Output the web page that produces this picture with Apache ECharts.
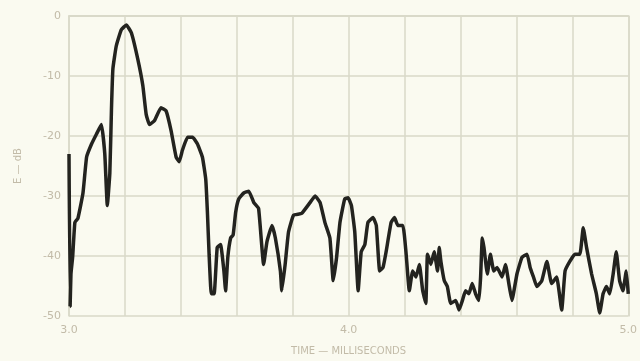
<!DOCTYPE html>
<html>
<head>
<meta charset="utf-8">
<script src="https://cdn.jsdelivr.net/npm/echarts@6/dist/echarts.min.js"></script>
<style>
  html, body { margin: 0; padding: 0; background: #fafaf0; }
  #chart { width: 640px; height: 361px; }
</style>
</head>
<body>
<div id="chart"></div>
<script>
// time in milliseconds, level in dB
const timeMs = [
  3.000, 3.004, 3.007, 3.013, 3.021, 3.032, 3.050, 3.063, 3.081, 3.098,
  3.116, 3.128, 3.137, 3.146, 3.152, 3.157, 3.169, 3.187, 3.205, 3.223,
  3.246, 3.264, 3.276, 3.288, 3.306, 3.329, 3.347, 3.365, 3.383, 3.394,
  3.406, 3.424, 3.442, 3.459, 3.477, 3.489, 3.495, 3.501, 3.509, 3.519,
  3.530, 3.542, 3.554, 3.560, 3.568, 3.578, 3.587, 3.596, 3.607, 3.625,
  3.643, 3.661, 3.678, 3.696, 3.708, 3.726, 3.738, 3.756, 3.761, 3.773,
  3.785, 3.803, 3.832, 3.862, 3.880, 3.898, 3.915, 3.933, 3.945, 3.957,
  3.969, 3.986, 3.998, 4.010, 4.022, 4.034, 4.045, 4.058, 4.069, 4.087,
  4.099, 4.111, 4.123, 4.134, 4.152, 4.164, 4.176, 4.194, 4.205, 4.217,
  4.229, 4.241, 4.253, 4.265, 4.276, 4.282, 4.294, 4.306, 4.318, 4.324,
  4.330, 4.342, 4.353, 4.365, 4.383, 4.395, 4.407, 4.418, 4.430, 4.442,
  4.454, 4.466, 4.472, 4.478, 4.484, 4.496, 4.507, 4.519, 4.531, 4.549,
  4.561, 4.573, 4.584, 4.602, 4.620, 4.638, 4.649, 4.661, 4.673, 4.691,
  4.709, 4.726, 4.744, 4.762, 4.774, 4.791, 4.809, 4.827, 4.839, 4.851,
  4.869, 4.886, 4.898, 4.910, 4.922, 4.934, 4.946, 4.957, 4.969, 4.981,
  4.993, 5.000
];
const levelDb = [
  -23.0, -48.4, -43.0, -40.2, -34.4, -33.7, -29.5, -23.5, -21.3, -19.7,
  -18.1, -23.0, -31.6, -26.2, -15.3, -8.8, -5.0, -2.3, -1.5, -2.8,
  -7.2, -11.6, -16.4, -18.1, -17.4, -15.3, -15.8, -19.1, -23.5, -24.3,
  -22.3, -20.2, -20.2, -21.3, -23.5, -27.2, -32.7, -39.7, -46.3, -46.3,
  -38.6, -38.1, -42.5, -45.8, -40.2, -37.0, -36.5, -32.7, -30.5, -29.5,
  -29.2, -31.1, -32.1, -41.4, -37.6, -34.9, -37.0, -42.5, -45.8, -41.4,
  -36.0, -33.2, -32.9, -31.1, -30.0, -31.1, -34.4, -37.0, -44.1, -40.2,
  -34.4, -30.5, -30.3, -31.6, -36.0, -45.8, -39.3, -38.1, -34.4, -33.6,
  -34.9, -42.5, -41.9, -39.3, -34.4, -33.6, -34.9, -34.9, -39.3, -45.8,
  -42.5, -43.5, -41.4, -45.8, -47.9, -39.7, -41.4, -39.3, -42.5, -38.6,
  -40.9, -44.1, -45.1, -47.9, -47.4, -49.0, -47.4, -45.8, -46.3, -44.6,
  -46.3, -47.4, -43.5, -37.0, -38.6, -43.0, -39.7, -42.5, -41.9, -43.5,
  -41.4, -44.6, -47.4, -43.0, -40.2, -39.7, -41.9, -43.5, -45.1, -44.1,
  -40.9, -44.6, -43.5, -49.0, -42.5, -40.9, -39.7, -39.7, -35.3, -38.6,
  -43.0, -46.3, -49.5, -46.3, -45.1, -46.3, -43.0, -39.3, -44.1, -45.8,
  -42.5, -46.3
];
const xTickLabels = ['3.0', '4.0', '5.0'];

const gridColor = '#d9d9c9';
const textColor = '#c2bba8';

let chart = echarts.init(document.getElementById('chart'));
chart.setOption({
  backgroundColor: '#fafaf0',
  animation: false,
  grid: { left: 69, right: 8, top: 16, bottom: 38 },
  xAxis: [{
    type: 'value',
    min: 3.0,
    max: 5.0,
    interval: 0.2,
    name: 'TIME — MILLISECONDS',
    nameLocation: 'middle',
    nameGap: 30,
    nameTextStyle: { color: textColor, fontSize: 10, fontFamily: 'DejaVu Sans' },
    axisLine: { lineStyle: { color: gridColor, width: 1.5 } },
    axisTick: { show: false },
    splitLine: { show: true, lineStyle: { color: gridColor, width: 1.5 } },
    axisLabel: {
      color: textColor,
      fontSize: 11,
      fontFamily: 'DejaVu Sans',
      margin: 9,
      formatter: v => {
        const s = v.toFixed(1);
        return xTickLabels.indexOf(s) >= 0 ? s : '';
      }
    }
  }, {
    // top border
    type: 'value', position: 'top', min: 3, max: 5,
    axisLine: { show: true, lineStyle: { color: gridColor, width: 1.5 } },
    axisTick: { show: false }, axisLabel: { show: false }, splitLine: { show: false }
  }],
  yAxis: [{
    type: 'value',
    min: -50,
    max: 0,
    interval: 10,
    name: 'E — dB',
    nameLocation: 'middle',
    nameGap: 46,
    nameTextStyle: { color: textColor, fontSize: 10, fontFamily: 'DejaVu Sans' },
    axisLine: { show: true, lineStyle: { color: gridColor, width: 1.5 } },
    axisTick: { show: false },
    splitLine: { show: true, lineStyle: { color: gridColor, width: 1.5 } },
    axisLabel: { color: textColor, fontSize: 11, fontFamily: 'DejaVu Sans', margin: 8 }
  }, {
    // right border
    type: 'value', position: 'right', min: -50, max: 0,
    axisLine: { show: true, lineStyle: { color: gridColor, width: 1.5 } },
    axisTick: { show: false }, axisLabel: { show: false }, splitLine: { show: false }
  }],
  series: [
    {
      type: 'line',
      data: timeMs.map((t, i) => [t, levelDb[i]]),
      showSymbol: false,
      smooth: 0.12,
      lineStyle: { color: '#23231f', width: 3.5 },
      z: 5
    }
  ]
});
</script>
</body>
</html>
